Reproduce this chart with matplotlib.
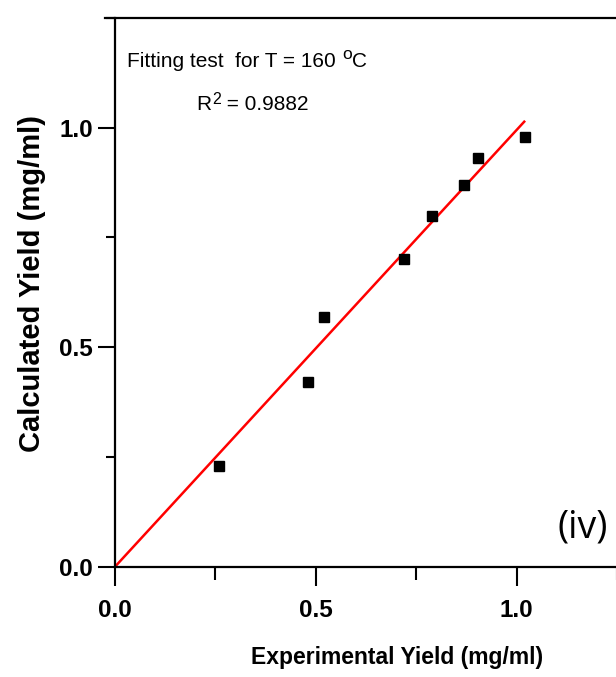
import matplotlib as mpl
import matplotlib.pyplot as plt
from matplotlib.ticker import MultipleLocator, FormatStrFormatter


# experimental vs. calculated yield, T = 160 C
EXP_YIELD = [0.26, 0.48, 0.52, 0.72, 0.79, 0.87, 0.905, 1.02]
CALC_YIELD = [0.23, 0.42, 0.57, 0.70, 0.80, 0.87, 0.93, 0.98]

# fitted line y = slope * x over the plotted range
FIT_SLOPE = 0.995
FIT_X = [0.0, 1.021]

R_SQUARED = "0.9882"
TEMPERATURE = 160


def superscript(ax, base, sup, rest, x, y, size, sup_size, rise):
    # base text, raised superscript, then the rest on the base line
    t = ax.text(x, y, base, transform=ax.transAxes, ha="left", va="baseline",
                fontsize=size)
    s = ax.annotate(sup, xy=(1, 1), xycoords=t, xytext=(0.5, rise),
                    textcoords="offset points", ha="left", va="top",
                    fontsize=sup_size)
    ax.annotate(rest, xy=(1, 0), xycoords=(s, t), xytext=(0.3, 0),
                textcoords="offset points", ha="left", va="bottom",
                fontsize=size)


def main():
    mpl.rcParams.update({"font.family": ["Liberation Sans", "DejaVu Sans"]})

    fig = plt.figure(figsize=(6.16, 6.77), dpi=100)
    fig.patch.set_facecolor("white")
    ax = fig.add_axes([0.1867, 0.1629, 0.815, 0.8105])

    fit_y = [FIT_SLOPE * x for x in FIT_X]
    ax.plot(FIT_X, fit_y, color="#ff0000", lw=1.8, zorder=2, solid_capstyle="butt")
    ax.plot(EXP_YIELD, CALC_YIELD, ls="none", marker="s", ms=7.5,
            color="black", zorder=3)

    ax.set_xlim(0, 1.25)
    ax.set_ylim(0, 1.25)

    for side in ("left", "bottom", "top"):
        ax.spines[side].set_linewidth(1.6)
    ax.spines["right"].set_visible(False)
    ax.spines["top"].set_bounds(-0.025, 1.25)

    ax.xaxis.set_major_locator(MultipleLocator(0.5))
    ax.xaxis.set_minor_locator(MultipleLocator(0.25))
    ax.yaxis.set_major_locator(MultipleLocator(0.5))
    ax.yaxis.set_minor_locator(MultipleLocator(0.25))
    ax.xaxis.set_major_formatter(FormatStrFormatter("%.1f"))
    ax.yaxis.set_major_formatter(FormatStrFormatter("%.1f"))

    ax.tick_params(axis="x", which="major", direction="out", length=14,
                   width=1.5, pad=9, labelsize=17.5)
    ax.tick_params(axis="x", which="minor", direction="out", length=9, width=1.5)
    ax.tick_params(axis="y", which="major", direction="out", length=12,
                   width=1.5, pad=4, labelsize=17.5)
    ax.tick_params(axis="y", which="minor", direction="out", length=6.5, width=1.5)
    for lab in ax.get_xticklabels() + ax.get_yticklabels():
        lab.set_fontweight("bold")

    ax.set_xlabel("Experimental Yield (mg/ml)", fontsize=16.5, fontweight="bold",
                  va="center")
    ax.xaxis.set_label_coords(0.561, -0.165)
    ax.set_ylabel("Calculated Yield (mg/ml)", fontsize=21, fontweight="bold",
                  va="center")
    ax.yaxis.set_label_coords(-0.165, 0.516)

    superscript(ax, f"Fitting test  for T = {TEMPERATURE} ", "o", "C",
                0.024, 0.911, size=15, sup_size=12.5, rise=3.5)
    superscript(ax, "R", "2", f" = {R_SQUARED}",
                0.162, 0.832, size=15, sup_size=11.5, rise=2.5)

    ax.text(0.982, 0.054, "(iv)", transform=ax.transAxes, ha="right",
            va="baseline", fontsize=27, family=["Open Sans", "DejaVu Sans"])

    fig.savefig("out.png", dpi=100)
    plt.close(fig)


if __name__ == "__main__":
    main()
